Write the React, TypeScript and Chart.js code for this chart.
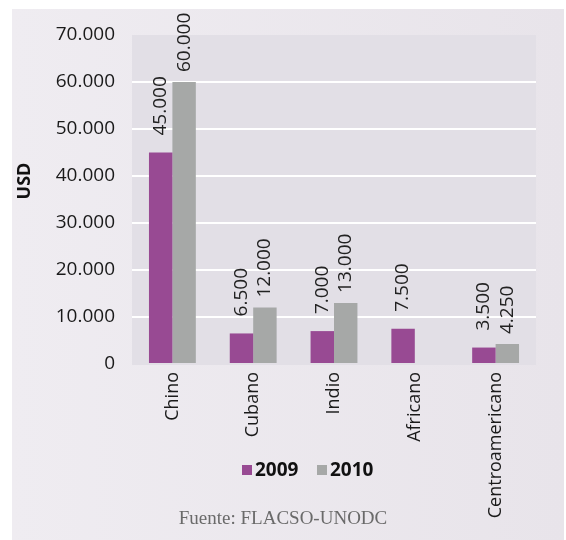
import React, { useEffect, useRef } from "react";
import { Chart, registerables } from "chart.js";

Chart.register(...registerables);

const categories = ["Chino", "Cubano", "Indio", "Africano", "Centroamericano"];
const seriesNames = ["2009", "2010"];
const values2009 = [45000, 6500, 7000, 7500, 3500];
const values2010: (number | null)[] = [60000, 12000, 13000, null, 4250];
const yTicks = [0, 10000, 20000, 30000, 40000, 50000, 60000, 70000];

const PURPLE = "#984A93";
const GRAY = "#A6A8A7";
const FONT = "'Open Sans', 'Noto Sans', sans-serif";

function fmt(v: number): string {
  const s = Math.round(v).toString();
  return s.replace(/\B(?=(\d{3})+(?!\d))/g, ".");
}

const decorPlugin = {
  id: "decor",
  beforeDraw(chart: any) {
    const { ctx, chartArea } = chart;
    ctx.save();
    ctx.fillStyle = "#ffffff";
    ctx.fillRect(0, 0, chart.width, chart.height);
    const g = ctx.createLinearGradient(12, 0, 564, 0);
    g.addColorStop(0, "#EFECF1");
    g.addColorStop(1, "#E8E4EA");
    ctx.fillStyle = g;
    ctx.fillRect(12, 9, 552, chart.height - 9);
    ctx.fillStyle = "#E2DFE6";
    ctx.fillRect(chartArea.left, chartArea.top, chartArea.right - chartArea.left, chartArea.bottom - chartArea.top + 1);
    ctx.restore();
  },
  afterDatasetsDraw(chart: any) {
    const { ctx } = chart;
    ctx.save();
    ctx.font = `19px ${FONT}`;
    ctx.fillStyle = "#222222";
    ctx.textAlign = "left";
    ctx.textBaseline = "middle";
    chart.data.datasets.forEach((ds: any, di: number) => {
      const meta = chart.getDatasetMeta(di);
      const gap = di === 0 ? 17 : 10;
      meta.data.forEach((el: any, i: number) => {
        const v = ds.data[i];
        if (v === null || v === undefined) return;
        ctx.save();
        ctx.translate(el.x, el.y - gap);
        ctx.rotate(-Math.PI / 2);
        ctx.fillText(fmt(v), 0, 0);
        ctx.restore();
      });
    });
    ctx.restore();
  },
  afterDraw(chart: any) {
    const { ctx, chartArea } = chart;
    ctx.save();
    // Y axis title
    ctx.font = `bold 18px ${FONT}`;
    ctx.fillStyle = "#111111";
    ctx.textAlign = "center";
    ctx.textBaseline = "middle";
    ctx.translate(25, 181);
    ctx.rotate(-Math.PI / 2);
    ctx.fillText("USD", 0, 0);
    ctx.restore();

    // Legend
    ctx.save();
    ctx.font = `bold 19px ${FONT}`;
    ctx.textBaseline = "middle";
    ctx.textAlign = "left";
    const ly = 470;
    const items = [
      { name: seriesNames[0], color: PURPLE, x: 242 },
      { name: seriesNames[1], color: GRAY, x: 317 },
    ];
    items.forEach((it) => {
      ctx.fillStyle = it.color;
      ctx.fillRect(it.x, ly - 5, 10, 10);
      ctx.fillStyle = "#111111";
      ctx.fillText(it.name, it.x + 13, ly + 1);
    });
    ctx.restore();

    // Source
    ctx.save();
    ctx.font = `19px 'Liberation Serif', 'DejaVu Serif', serif`;
    ctx.fillStyle = "#6a6a6a";
    ctx.textAlign = "center";
    ctx.textBaseline = "middle";
    ctx.fillText("Fuente: FLACSO-UNODC", 283, 519);
    ctx.restore();
    void chartArea;
  },
};

export default function App() {
  const ref = useRef<HTMLCanvasElement | null>(null);
  useEffect(() => {
    if (!ref.current) return;
    const chart = new Chart(ref.current, {
      type: "bar",
      data: {
        labels: categories,
        datasets: [
          { label: seriesNames[0], data: values2009, backgroundColor: PURPLE, categoryPercentage: 0.58, barPercentage: 1.0 },
          { label: seriesNames[1], data: values2010, backgroundColor: GRAY, categoryPercentage: 0.58, barPercentage: 1.0 },
        ],
      },
      options: {
        responsive: false,
        animation: false,
        devicePixelRatio: 1,
        layout: { padding: { left: 0, top: 35, right: 30, bottom: 0 } },
        plugins: { legend: { display: false }, tooltip: { enabled: false }, title: { display: false } },
        scales: {
          x: {
            grid: { display: false, drawTicks: false },
            border: { display: false },
            ticks: {
              minRotation: 90,
              maxRotation: 90,
              padding: 8,
              color: "#1a1a1a",
              font: { family: FONT, size: 18 },
            },
            afterFit(scale: any) {
              scale.height = 176;
            },
          },
          y: {
            min: 0,
            max: 70000,
            afterBuildTicks(scale: any) {
              scale.ticks = yTicks.map((v) => ({ value: v }));
            },
            grid: {
              drawTicks: false,
              lineWidth: 2,
              color: (c: any) => (c.tick && c.tick.value > 0 && c.tick.value < 70000 ? "#ffffff" : "rgba(0,0,0,0)"),
            },
            border: { display: false },
            ticks: {
              padding: 17,
              color: "#1a1a1a",
              font: { family: FONT, size: 19 },
              callback: (v: any) => fmt(Number(v)),
            },
            afterFit(scale: any) {
              scale.width = 132;
            },
          },
        },
      },
      plugins: [decorPlugin],
    });
    return () => chart.destroy();
  }, []);
  return (
    <div style={{ position: "fixed", left: 0, top: 0, width: 566, height: 540 }}>
      <canvas ref={ref} width={566} height={540} style={{ width: 566, height: 540, display: "block" }} />
    </div>
  );
}
